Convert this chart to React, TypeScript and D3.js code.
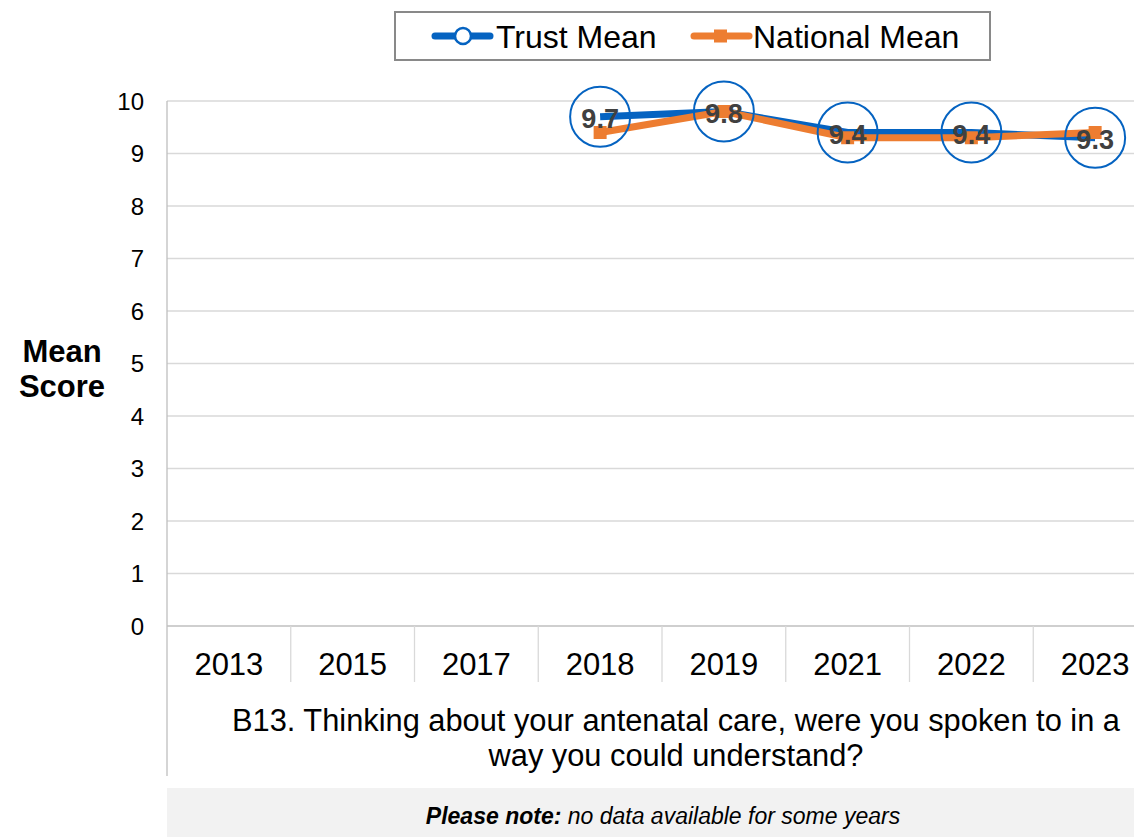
import React, { useRef, useEffect } from 'react';
import * as d3 from 'd3';

const years = ['2013', '2015', '2017', '2018', '2019', '2021', '2022', '2023'];
const trustMean: (number | null)[] = [null, null, null, 9.7, 9.8, 9.4, 9.4, 9.3];
const nationalMean: (number | null)[] = [null, null, null, 9.4, 9.8, 9.3, 9.3, 9.4];
const yTicks = [0, 1, 2, 3, 4, 5, 6, 7, 8, 9, 10];
const questionLines = [
  'B13. Thinking about your antenatal care, were you spoken to in a',
  'way you could understand?',
];

const BLUE = '#0563C1';
const ORANGE = '#ED7D31';
const FONT = '"Liberation Sans", Arial, sans-serif';

const App: React.FC = () => {
  const ref = useRef<SVGSVGElement | null>(null);

  useEffect(() => {
    if (!ref.current) return;
    const svg = d3.select(ref.current);
    svg.selectAll('*').remove();

    const width = 1134;
    const height = 837;
    // plot runs a little past the right edge, like the original export
    const plot = { left: 167, right: 1157, top: 101, bottom: 626 };

    const x = d3.scaleBand<string>().domain(years).range([plot.left, plot.right]);
    const y = d3.scaleLinear().domain([0, 10]).range([plot.bottom, plot.top]);
    const cx = (yr: string) => (x(yr) ?? 0) + x.bandwidth() / 2;

    svg.append('rect').attr('width', width).attr('height', height).attr('fill', '#fff');

    // gridlines
    svg.append('g')
      .selectAll('line')
      .data(yTicks.filter(t => t > 0))
      .join('line')
      .attr('x1', plot.left).attr('x2', width)
      .attr('y1', d => y(d)).attr('y2', d => y(d))
      .attr('stroke', '#D9D9D9').attr('stroke-width', 1.3);

    // y axis + labels
    svg.append('line')
      .attr('x1', plot.left).attr('x2', plot.left)
      .attr('y1', plot.top).attr('y2', 776)
      .attr('stroke', '#BFBFBF').attr('stroke-width', 1.3);

    svg.append('g')
      .selectAll('text')
      .data(yTicks)
      .join('text')
      .attr('x', 144)
      .attr('y', d => y(d))
      .attr('dy', '0.36em')
      .attr('text-anchor', 'end')
      .attr('font-family', FONT)
      .attr('font-size', 24)
      .attr('fill', '#000')
      .text(d => d);

    // x axis, category separators, labels
    svg.append('line')
      .attr('x1', plot.left).attr('x2', width)
      .attr('y1', plot.bottom).attr('y2', plot.bottom)
      .attr('stroke', '#BFBFBF').attr('stroke-width', 1.3);

    svg.append('g')
      .selectAll('line')
      .data(years.slice(1))
      .join('line')
      .attr('x1', d => x(d) ?? 0).attr('x2', d => x(d) ?? 0)
      .attr('y1', plot.bottom).attr('y2', 682)
      .attr('stroke', '#D9D9D9').attr('stroke-width', 1.3);

    svg.append('g')
      .selectAll('text')
      .data(years)
      .join('text')
      .attr('x', d => cx(d))
      .attr('y', 675)
      .attr('text-anchor', 'middle')
      .attr('font-family', FONT)
      .attr('font-size', 31)
      .text(d => d);

    // axis title
    const yTitle = svg.append('text')
      .attr('text-anchor', 'middle')
      .attr('font-family', FONT)
      .attr('font-size', 31)
      .attr('font-weight', 'bold');
    yTitle.append('tspan').attr('x', 62).attr('y', 362).text('Mean');
    yTitle.append('tspan').attr('x', 62).attr('y', 397).text('Score');

    // question text
    svg.append('g')
      .selectAll('text')
      .data(questionLines)
      .join('text')
      .attr('x', 676)
      .attr('y', (_, i) => 731 + i * 35)
      .attr('text-anchor', 'middle')
      .attr('font-family', FONT)
      .attr('font-size', 30.8)
      .text(d => d);

    // note band
    svg.append('rect')
      .attr('x', plot.left).attr('y', 788)
      .attr('width', width - plot.left).attr('height', 49)
      .attr('fill', '#F2F2F2');
    const note = svg.append('text')
      .attr('x', 663).attr('y', 824)
      .attr('text-anchor', 'middle')
      .attr('font-family', FONT)
      .attr('font-size', 23)
      .attr('font-style', 'italic');
    note.append('tspan').attr('font-weight', 'bold').text('Please note:');
    note.append('tspan').text(' no data available for some years');

    // series
    const line = d3.line<number | null>()
      .defined(d => d !== null)
      .x((_, i) => cx(years[i]))
      .y(d => y(d as number));

    svg.append('path')
      .datum(trustMean)
      .attr('fill', 'none')
      .attr('stroke', BLUE)
      .attr('stroke-width', 7)
      .attr('stroke-linejoin', 'round')
      .attr('d', line);

    svg.append('path')
      .datum(nationalMean)
      .attr('fill', 'none')
      .attr('stroke', ORANGE)
      .attr('stroke-width', 7)
      .attr('stroke-linejoin', 'round')
      .attr('d', line);

    const natPts = nationalMean.map((v, i) => ({ v, yr: years[i] })).filter(d => d.v !== null);
    svg.append('g')
      .selectAll('rect')
      .data(natPts)
      .join('rect')
      .attr('x', d => cx(d.yr) - 6.5)
      .attr('y', d => y(d.v as number) - 6.5)
      .attr('width', 13).attr('height', 13)
      .attr('fill', ORANGE);

    // trust data labels in circle callouts
    const trustPts = trustMean.map((v, i) => ({ v, yr: years[i] })).filter(d => d.v !== null);
    const lbl = svg.append('g')
      .selectAll('g')
      .data(trustPts)
      .join('g')
      .attr('transform', d => `translate(${cx(d.yr)},${y(d.v as number)})`);
    lbl.append('circle')
      .attr('r', 30)
      .attr('fill', 'none')
      .attr('stroke', BLUE)
      .attr('stroke-width', 2);
    lbl.append('text')
      .attr('y', 2)
      .attr('dy', '0.36em')
      .attr('text-anchor', 'middle')
      .attr('font-family', FONT)
      .attr('font-size', 27)
      .attr('font-weight', 'bold')
      .attr('fill', '#404040')
      .text(d => (d.v as number).toFixed(1));

    // legend
    const lg = svg.append('g');
    lg.append('rect')
      .attr('x', 395).attr('y', 12)
      .attr('width', 595).attr('height', 48)
      .attr('fill', '#fff')
      .attr('stroke', '#898989').attr('stroke-width', 2);
    lg.append('line')
      .attr('x1', 435).attr('x2', 490).attr('y1', 36).attr('y2', 36)
      .attr('stroke', BLUE).attr('stroke-width', 7).attr('stroke-linecap', 'round');
    lg.append('circle')
      .attr('cx', 463).attr('cy', 36).attr('r', 8)
      .attr('fill', '#fff').attr('stroke', BLUE).attr('stroke-width', 2.5);
    lg.append('text')
      .attr('x', 496).attr('y', 36).attr('dy', '0.36em')
      .attr('font-family', FONT).attr('font-size', 32)
      .text('Trust Mean');
    lg.append('line')
      .attr('x1', 694).attr('x2', 749).attr('y1', 36).attr('y2', 36)
      .attr('stroke', ORANGE).attr('stroke-width', 7).attr('stroke-linecap', 'round');
    lg.append('rect')
      .attr('x', 714).attr('y', 29.5).attr('width', 13).attr('height', 13)
      .attr('fill', ORANGE);
    lg.append('text')
      .attr('x', 753).attr('y', 36).attr('dy', '0.36em')
      .attr('font-family', FONT).attr('font-size', 32)
      .text('National Mean');
  }, []);

  return (
    <svg
      ref={ref}
      width={1134}
      height={837}
      style={{ position: 'absolute', left: 0, top: 0 }}
    />
  );
};

export default App;
